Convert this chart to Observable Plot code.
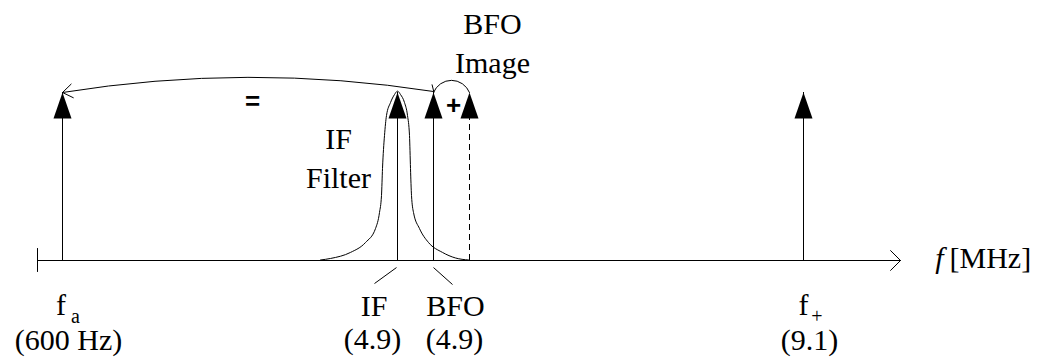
<!DOCTYPE html>
<html><head><meta charset="utf-8">
<script src="https://cdn.jsdelivr.net/npm/d3@7"></script>
<script src="https://cdn.jsdelivr.net/npm/@observablehq/plot@0.6"></script>
<style>
body{margin:0;background:#fff}
</style>
</head><body><div id="chart"></div>
<script>
// Schematic spectrum: x in schematic units along the frequency axis, y = relative amplitude
const toneNames = ["fa", "IF", "BFO", "BFO Image", "f+"];
const tonePositions = [2.5, 36.0, 39.6, 43.2, 76.6];
const toneAmplitudes = [1, 1, 1, 1, 1];
const toneDashed = [false, false, false, true, false];

// IF filter response
const filterX = [28.3, 29.3, 31.3, 32.8, 33.8, 34.2, 34.4, 34.5, 34.7, 34.9, 35.3, 35.7, 36.0,
                 36.3, 36.7, 37.0, 37.2, 37.3, 37.4, 37.6, 38.2, 39.1, 40.5, 41.8, 43.1];
const filterY = [0.003, 0.012, 0.048, 0.107, 0.190, 0.286, 0.387, 0.548, 0.744, 0.863, 0.940, 0.988, 1.008,
                 0.988, 0.940, 0.863, 0.744, 0.548, 0.387, 0.286, 0.190, 0.107, 0.048, 0.015, 0.003];

const axisStart = 0, axisEnd = 86.3;

// serif labels (baseline positions)
const labelTexts = ["IF\nFilter", "BFO\nImage", "IF", "BFO", "(4.9)", "(4.9)", "f", "(600 Hz)", "f", "(9.1)"];
const labelX = [30.1, 45.5, 33.65, 41.8, 33.5, 41.7, 2.35, 3.1, 76.6, 77.2];
const labelY = [0.429, 1.119, -0.333, -0.333, -0.524, -0.524, -0.327, -0.530, -0.327, -0.530];
// subscripts
const subTexts = ["a", "+"];
const subX = [3.8, 77.95];
const subY = [-0.372, -0.372];
// operators
const opTexts = ["=", "+"];
const opX = [21.5, 41.6];
const opY = [0.946, 0.923];
// axis title
const axisVar = "f", axisUnit = "[MHz]";
const axisTitleX = 90.6, axisTitleY = -0.042;

const tones = toneNames.map((n, i) => ({name: n, x: tonePositions[i], a: toneAmplitudes[i], dashed: toneDashed[i]}));
const filter = filterX.map((x, i) => ({x, y: filterY[i]}));
const labels = labelTexts.map((t, i) => ({t, x: labelX[i], y: labelY[i]}));
const subs = subTexts.map((t, i) => ({t, x: subX[i], y: subY[i]}));
const ops = opTexts.map((t, i) => ({t, x: opX[i], y: opY[i]}));

const bigArc = [{x1: tonePositions[2], y1: 1.006, x2: tonePositions[0], y2: 1.0}];
const smallArc = [{x1: tonePositions[2], y1: 1.0, x2: tonePositions[3], y2: 1.0}];
const leaders = [
  {x1: 35.9, y1: -0.042, x2: 33.7, y2: -0.137},
  {x1: 39.6, y1: -0.042, x2: 41.5, y2: -0.143}
];
const tick = [{x1: 39.45, y1: 1.048, x2: 39.65, y2: 1.0}];

const headSymbol = {
  draw(ctx) { ctx.moveTo(0, 0); ctx.lineTo(9, 26); ctx.lineTo(-9, 26); ctx.closePath(); }
};

const serif = "Liberation Serif";
const sans = "Liberation Sans";

const chart = Plot.plot({
  width: 1039,
  height: 362,
  margin: 0,
  x: {domain: [axisStart, axisEnd], range: [37, 900], axis: null},
  y: {domain: [0, 1], range: [260, 92], axis: null},
  style: {background: "white", color: "black", overflow: "visible"},
  marks: [
    // frequency axis with open arrow
    Plot.arrow([{x1: axisStart, x2: axisEnd}], {x1: "x1", x2: "x2", y1: 0, y2: 0, stroke: "black", strokeWidth: 1, headAngle: 90, headLength: 21}),
    Plot.ruleX([axisStart], {y1: -0.071, y2: 0.071, stroke: "black", strokeWidth: 1}),
    // filter response
    Plot.line(filter, {x: "x", y: "y", curve: "monotone-x", stroke: "black", strokeWidth: 1}),
    // tone stems
    Plot.ruleX(tones.filter(d => !d.dashed), {x: "x", y1: 0, y2: "a", stroke: "black", strokeWidth: 1}),
    Plot.ruleX(tones.filter(d => d.dashed), {x: "x", y1: 0, y2: "a", stroke: "black", strokeWidth: 1, strokeDasharray: "6,4"}),
    // arrow heads
    Plot.dot(tones, {x: "x", y: "a", symbol: headSymbol, fill: "black", stroke: "none"}),
    // arcs
    Plot.arrow(bigArc, {x1: "x1", y1: "y1", x2: "x2", y2: "y2", bend: -9, headLength: 18, headAngle: 70, stroke: "black", strokeWidth: 1}),
    Plot.arrow(smallArc, {x1: "x1", y1: "y1", x2: "x2", y2: "y2", bend: 68, headLength: 0, stroke: "black", strokeWidth: 1}),
    Plot.link(tick, {x1: "x1", y1: "y1", x2: "x2", y2: "y2", stroke: "black", strokeWidth: 1}),
    Plot.link(leaders, {x1: "x1", y1: "y1", x2: "x2", y2: "y2", stroke: "black", strokeWidth: 1}),
    // labels
    Plot.text(labels, {x: "x", y: "y", text: "t", fontSize: 30, fontFamily: serif, lineAnchor: "bottom", lineHeight: 1.3, textAnchor: "middle", fill: "black"}),
    Plot.text(subs, {x: "x", y: "y", text: "t", fontSize: 20, fontFamily: serif, lineAnchor: "bottom", textAnchor: "middle", fill: "black"}),
    Plot.text(ops, {x: "x", y: "y", text: "t", fontSize: 26, fontFamily: sans, fontWeight: "bold", lineAnchor: "middle", textAnchor: "middle", fill: "black"}),
    Plot.text([axisVar], {x: axisTitleX, y: axisTitleY, text: d => d, fontSize: 30, fontFamily: serif, fontStyle: "italic", lineAnchor: "bottom", textAnchor: "end", fill: "black"}),
    Plot.text([axisUnit], {x: axisTitleX + 0.6, y: axisTitleY, text: d => d, fontSize: 30, fontFamily: serif, lineAnchor: "bottom", textAnchor: "start", fill: "black"})
  ]
});
document.getElementById("chart").appendChild(chart);
</script>
</body></html>
